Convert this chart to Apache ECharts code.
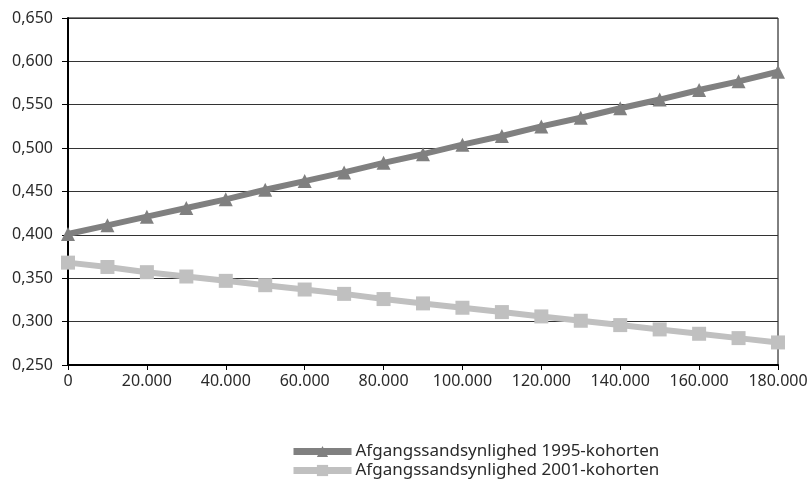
<!DOCTYPE html>
<html>
<head>
<meta charset="utf-8">
<script src="https://cdn.jsdelivr.net/npm/echarts@6/dist/echarts.min.js"></script>
<style>
  html, body { margin: 0; padding: 0; background: #fff; }
  #chart { width: 812px; height: 486px; }
</style>
</head>
<body>
<div id="chart"></div>
<script>
// Income levels (kr.) along the x axis
const incomes = [0, 10000, 20000, 30000, 40000, 50000, 60000, 70000, 80000, 90000,
  100000, 110000, 120000, 130000, 140000, 150000, 160000, 170000, 180000];

// Probability of leaving, per cohort
const cohort1995 = [0.401, 0.411, 0.421, 0.431, 0.441, 0.452, 0.462, 0.472, 0.483, 0.493,
  0.504, 0.514, 0.525, 0.535, 0.546, 0.556, 0.567, 0.577, 0.588];
const cohort2001 = [0.368, 0.363, 0.357, 0.352, 0.347, 0.342, 0.337, 0.332, 0.326, 0.321,
  0.316, 0.311, 0.306, 0.301, 0.296, 0.291, 0.286, 0.281, 0.276];

const seriesNames = ['Afgangssandsynlighed 1995-kohorten', 'Afgangssandsynlighed 2001-kohorten'];

const fontFamily = 'Noto Sans, sans-serif';

function pairs(xs, ys) { return xs.map((x, i) => [x, ys[i]]); }
function thousands(v) { return String(v).replace(/\B(?=(\d{3})+(?!\d))/g, '.'); }

const chart = echarts.init(document.getElementById('chart'), null, { renderer: 'canvas' });
chart.setOption({
  animation: false,
  backgroundColor: '#ffffff',
  grid: {
    left: 68, right: 34, top: 18, bottom: 121,
    show: true, borderColor: '#000', borderWidth: 1
  },
  xAxis: {
    type: 'value', min: 0, max: 180000, interval: 20000,
    axisLine: { show: true, lineStyle: { color: '#000', width: 2 } },
    axisTick: { show: true, inside: false, length: 5, lineStyle: { color: '#000', width: 1 } },
    axisLabel: { color: '#2a2a2a', fontFamily, fontSize: 16, margin: 8, formatter: v => thousands(v) },
    splitLine: { show: false }
  },
  yAxis: {
    type: 'value', min: 0.25, max: 0.65, interval: 0.05,
    axisLine: { show: true, lineStyle: { color: '#000', width: 2 } },
    axisTick: { show: true, inside: false, length: 6, lineStyle: { color: '#000', width: 1 } },
    axisLabel: { color: '#2a2a2a', fontFamily, fontSize: 16, margin: 15, formatter: v => v.toFixed(3).replace('.', ',') },
    splitLine: { show: true, lineStyle: { color: '#333', width: 1 } }
  },
  legend: {
    orient: 'vertical', left: 290, top: 443, padding: 0,
    itemWidth: 58, itemHeight: 14, itemGap: 2,
    lineStyle: { width: 7 },
    textStyle: { color: '#2a2a2a', fontFamily, fontSize: 17, lineHeight: 16, padding: [0, 0, 0, -1] },
    data: seriesNames
  },
  series: [
    {
      name: seriesNames[0], type: 'line',
      data: pairs(incomes, cohort1995),
      symbol: 'triangle', symbolSize: 14,
      lineStyle: { color: '#808080', width: 6 },
      itemStyle: { color: '#808080' }
    },
    {
      name: seriesNames[1], type: 'line',
      data: pairs(incomes, cohort2001),
      symbol: 'rect', symbolSize: 14,
      lineStyle: { color: '#c0c0c0', width: 6 },
      itemStyle: { color: '#c0c0c0' }
    }
  ]
});
</script>
</body>
</html>
